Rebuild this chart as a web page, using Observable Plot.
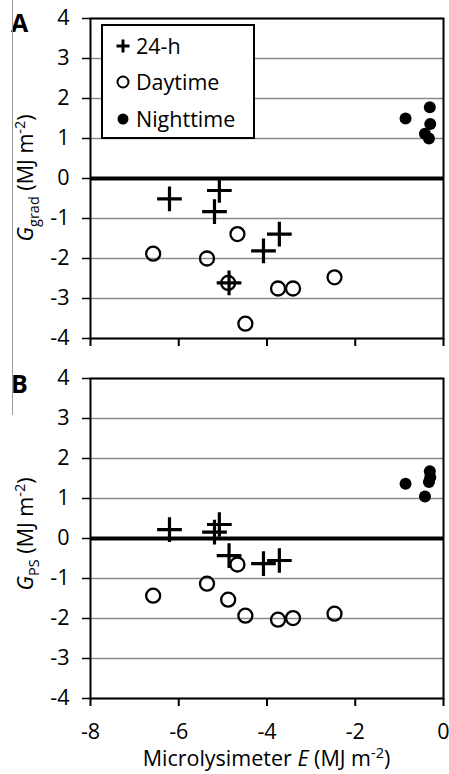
<!DOCTYPE html>
<html>
<head>
<meta charset="utf-8">
<script src="https://cdn.jsdelivr.net/npm/d3@7"></script>
<script src="https://cdn.jsdelivr.net/npm/@observablehq/plot@0.6"></script>
<style>
  html, body { margin: 0; padding: 0; background: #fff; }
  #wrap { position: relative; width: 449px; height: 774px; font-family: "Open Sans", Lato, sans-serif; }
  #wrap svg { display: block; font-family: "Open Sans", Lato, sans-serif; }
  #edge { position: absolute; left: 12px; top: 0; width: 1px; height: 415px; background: #9a9a9a; }
</style>
</head>
<body>
<div id="wrap"><div id="edge"></div></div>
<script>
// ---- data ----
const xTicks = [-8, -6, -4, -2, 0];
const yTicks = [-4, -3, -2, -1, 0, 1, 2, 3, 4];

// 24-h
const fullE     = [-6.21, -5.08, -5.19, -3.72, -4.08, -4.86];
const fullGgrad = [-0.51, -0.30, -0.83, -1.39, -1.81, -2.61];
const fullGps   = [ 0.22,  0.35,  0.16, -0.55, -0.63, -0.43];

// Daytime
const dayE     = [-6.58, -5.36, -4.67, -4.88, -4.49, -3.75, -3.41, -2.47];
const dayGgrad = [-1.88, -2.00, -1.39, -2.61, -3.63, -2.75, -2.75, -2.47];
const dayGps   = [-1.43, -1.13, -0.65, -1.53, -1.93, -2.03, -1.99, -1.88];

// Nighttime
const nightE     = [-0.86, -0.31, -0.30, -0.42, -0.33];
const nightGgrad = [ 1.50,  1.78,  1.36,  1.12,  1.00];
const nightGps   = [ 1.37,  1.68,  1.53,  1.05,  1.41];

const legendItems = ["24-h", "Daytime", "Nighttime"];
const xTitle = ["Microlysimeter ", "E", " (MJ m", "-2", ")"];

const FONT = 21.5;
const SMALL = 14.5;
const zip = (xs, ys) => xs.map((x, i) => ({x, y: ys[i]}));

function panel({full, day, night, height, marginTop, marginBottom, showXLabels}) {
  return Plot.plot({
    width: 449,
    height,
    marginTop,
    marginBottom,
    marginLeft: 90,
    marginRight: 6,
    style: {fontFamily: "'Open Sans', Lato, sans-serif", fontSize: FONT + "px", color: "black"},
    x: {domain: [-8, 0]},
    y: {domain: [-4, 4]},
    marks: [
      Plot.gridY(yTicks, {stroke: "#8a8a8a", strokeOpacity: 1, strokeWidth: 1.5}),
      Plot.ruleY([0], {stroke: "black", strokeWidth: 4}),
      Plot.frame({stroke: "black", strokeWidth: 2}),
      Plot.axisY({ticks: yTicks, tickSize: 8, tickPadding: 13, label: null, fontSize: FONT,
                  tickFormat: d => String(d), strokeWidth: 1.5}),
      Plot.axisX({ticks: xTicks, tickSize: 8, tickPadding: 17, label: null, fontSize: FONT,
                  tickFormat: showXLabels ? (d => String(d)) : (() => ""), strokeWidth: 2}),
      Plot.dot(day, {x: "x", y: "y", r: 7, stroke: "black", strokeWidth: 2.3, fill: "none"}),
      Plot.dot(full, {x: "x", y: "y", symbol: "plus", r: 8, stroke: "black", strokeWidth: 3.2}),
      Plot.dot(night, {x: "x", y: "y", r: 6, fill: "black", stroke: "none"})
    ]
  });
}

const wrap = document.getElementById("wrap");

const svgA = panel({
  full: zip(fullE, fullGgrad), day: zip(dayE, dayGgrad), night: zip(nightE, nightGgrad),
  height: 358, marginTop: 18, marginBottom: 20, showXLabels: false
});
const svgB = panel({
  full: zip(fullE, fullGps), day: zip(dayE, dayGps), night: zip(nightE, nightGps),
  height: 416, marginTop: 20, marginBottom: 76, showXLabels: true
});
wrap.appendChild(svgA);
wrap.appendChild(svgB);

function yTitle(svg, sub, cy) {
  const t = d3.select(svg).append("text")
    .attr("transform", `translate(33,${cy}) rotate(-90)`)
    .attr("text-anchor", "middle")
    .attr("font-size", FONT)
    .attr("fill", "black");
  t.append("tspan").attr("font-style", "italic").text("G");
  t.append("tspan").attr("dy", 6).attr("font-size", SMALL).text(sub);
  t.append("tspan").attr("dy", -6).text(" (MJ m");
  t.append("tspan").attr("dy", -8).attr("font-size", SMALL).text("-2");
  t.append("tspan").attr("dy", 8).text(")");
}
yTitle(svgA, "grad", 178);
yTitle(svgB, "PS", 176);

// panel letters
d3.select(svgA).append("text").attr("x", 11).attr("y", 32).attr("text-anchor", "start")
  .attr("font-size", 25).attr("font-weight", "bold").attr("fill", "black").text("A");
d3.select(svgB).append("text").attr("x", 11).attr("y", 35).attr("text-anchor", "start")
  .attr("font-size", 25).attr("font-weight", "bold").attr("fill", "black").text("B");

// x title
{
  const t = d3.select(svgB).append("text")
    .attr("x", 266.5).attr("y", 408)
    .attr("text-anchor", "middle").attr("font-size", FONT).attr("fill", "black");
  t.append("tspan").text(xTitle[0]);
  t.append("tspan").attr("font-style", "italic").text(xTitle[1]);
  t.append("tspan").text(xTitle[2]);
  t.append("tspan").attr("dy", -8).attr("font-size", SMALL).text(xTitle[3]);
  t.append("tspan").attr("dy", 8).text(xTitle[4]);
}

// legend
{
  const g = d3.select(svgA).append("g").attr("text-anchor", "start");
  g.append("rect").attr("x", 102).attr("y", 25).attr("width", 152).attr("height", 113)
    .attr("fill", "white").attr("stroke", "black").attr("stroke-width", 2);
  const ys = [46, 82, 119];
  g.append("path").attr("d", `M116.5,${ys[0]}h13M123,${ys[0]-6.5}v13`)
    .attr("stroke", "black").attr("stroke-width", 3).attr("fill", "none");
  g.append("circle").attr("cx", 123).attr("cy", ys[1]).attr("r", 5.5)
    .attr("fill", "none").attr("stroke", "black").attr("stroke-width", 2);
  g.append("circle").attr("cx", 123).attr("cy", ys[2]).attr("r", 5.5).attr("fill", "black");
  legendItems.forEach((s, i) => {
    g.append("text").attr("x", 136).attr("y", ys[i]).attr("dy", "0.36em")
      .attr("text-anchor", "start")
      .attr("font-size", FONT).attr("fill", "black").text(s);
  });
}
</script>
</body>
</html>
